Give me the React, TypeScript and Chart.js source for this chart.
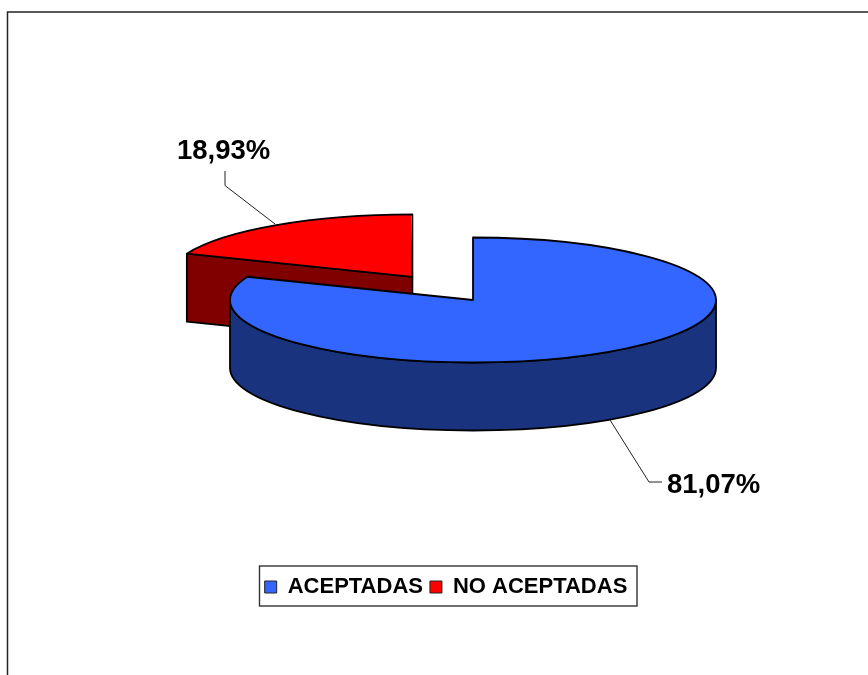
import React, { useEffect, useRef } from "react";
import { Chart, registerables } from "chart.js";

Chart.register(...registerables);

const categories = ["ACEPTADAS", "NO ACEPTADAS"];
const values = [81.07, 18.93];
const topColors = ["#3366FF", "#FF0000"];
const wallColors = ["#1A337F", "#800000"];
const FONT = '"Liberation Sans", Arial, sans-serif';

// Projection of the library's circular pie onto the tilted disc
const CX = 473;
const CY = 300;
const RX = 243;
const RY = 62.5;
const DEPTH = 68;

const fmt = (v: number) => v.toFixed(2).replace(".", ",") + "%";

function geom(chart: any, i: number) {
  const data = chart.getDatasetMeta(0).data;
  const arc = data[i];
  const p = arc.getProps(["x", "y", "startAngle", "endAngle"], true);
  const R = data[0].getProps(["outerRadius"], true).outerRadius;
  const mid = (p.startAngle + p.endAngle) / 2;
  // the arc element moves a slice by a quarter of its offset option
  const off = (arc.options.offset || 0) / 4;
  const sx = RX / R;
  const sy = RY / R;
  return {
    ...p,
    sx,
    sy,
    cx: CX + Math.cos(mid) * off * sx,
    cy: CY + Math.sin(mid) * off * sy,
  };
}

const pie3d = {
  id: "pie3d",
  afterDatasetsUpdate(chart: any) {
    // the arc element widens a narrow offset slice: cancel that, keep one radius
    const arc = chart.getDatasetMeta(0).data[1];
    const off = (arc.options.offset || 0) / 4;
    const circ = arc.circumference;
    arc.outerRadius -= off * (1 - Math.sin(Math.min(Math.PI, circ)));
  },
  beforeDraw(chart: any) {
    const ctx = chart.ctx;
    ctx.save();
    ctx.fillStyle = "#fff";
    ctx.fillRect(0, 0, chart.width, chart.height);
    ctx.strokeStyle = "#222";
    ctx.lineWidth = 1.5;
    ctx.beginPath();
    ctx.moveTo(7.5, chart.height);
    ctx.lineTo(7.5, 12);
    ctx.lineTo(chart.width, 12);
    ctx.stroke();
    // legend frame
    ctx.strokeStyle = "#333";
    ctx.lineWidth = 1.4;
    ctx.strokeRect(259.5, 566, 377.5, 40);
    ctx.restore();
  },
  beforeDatasetsDraw(chart: any) {
    const ctx = chart.ctx;
    ctx.save();
    ctx.strokeStyle = "#000";
    ctx.lineWidth = 1.8;
    ctx.lineJoin = "round";
    // back slice: visible cut face
    const r = geom(chart, 1);
    const ex = r.cx + Math.cos(r.startAngle) * RX;
    const ey = r.cy + Math.sin(r.startAngle) * RY;
    ctx.fillStyle = wallColors[1];
    ctx.beginPath();
    ctx.moveTo(r.cx, r.cy);
    ctx.lineTo(ex, ey);
    ctx.lineTo(ex, ey + DEPTH);
    ctx.lineTo(r.cx, r.cy + DEPTH);
    ctx.closePath();
    ctx.fill();
    ctx.stroke();
    // front slice: outer wall
    const b = geom(chart, 0);
    ctx.fillStyle = wallColors[0];
    ctx.beginPath();
    ctx.ellipse(b.cx, b.cy, RX, RY, 0, 0, Math.PI);
    ctx.lineTo(b.cx - RX, b.cy + DEPTH);
    ctx.ellipse(b.cx, b.cy + DEPTH, RX, RY, 0, Math.PI, 0, true);
    ctx.closePath();
    ctx.fill();
    ctx.stroke();
    ctx.restore();

    ctx.save();
    ctx.translate(b.cx, b.cy);
    ctx.scale(b.sx, b.sy);
    ctx.translate(-b.x, -b.y);
  },
  afterDatasetsDraw(chart: any) {
    const ctx = chart.ctx;
    ctx.restore();
    ctx.save();
    ctx.strokeStyle = "#000";
    ctx.lineWidth = 1.8;
    ctx.lineJoin = "round";
    values.forEach((_, i) => {
      const g = geom(chart, i);
      ctx.beginPath();
      ctx.moveTo(g.cx, g.cy);
      ctx.ellipse(g.cx, g.cy, RX, RY, 0, g.startAngle, g.endAngle);
      ctx.closePath();
      ctx.stroke();
    });
    // leader lines and value labels
    ctx.strokeStyle = "#222";
    ctx.lineWidth = 1;
    ctx.beginPath();
    ctx.moveTo(225, 171);
    ctx.lineTo(225, 185.5);
    ctx.lineTo(275, 224);
    ctx.moveTo(610, 420);
    ctx.lineTo(649, 482);
    ctx.lineTo(662, 482);
    ctx.stroke();
    ctx.fillStyle = "#000";
    ctx.font = `bold 27.5px ${FONT}`;
    ctx.textAlign = "left";
    ctx.textBaseline = "middle";
    ctx.fillText(fmt(values[1]), 177, 151);
    ctx.fillText(fmt(values[0]), 667, 485);
    ctx.restore();
  },
};

export default function App() {
  const ref = useRef<HTMLCanvasElement>(null);
  useEffect(() => {
    document.body.style.margin = "0";
    const chart = new Chart(ref.current!, {
      type: "pie",
      data: {
        labels: categories,
        datasets: [
          {
            data: values,
            backgroundColor: topColors,
            borderWidth: 0,
            offset: [0, 268],
            clip: false,
          } as any,
        ],
      },
      options: {
        responsive: false,
        animation: false,
        events: [],
        layout: { padding: { left: 24, right: 0, top: 0, bottom: 67 } },
        plugins: {
          tooltip: { enabled: false },
          title: { display: false },
          legend: {
            position: "bottom",
            labels: {
              boxWidth: 12,
              boxHeight: 12,
              padding: 7,
              color: "#000",
              font: { family: FONT, size: 22, weight: "bold" },
              generateLabels: () =>
                categories.map((text, i) => ({
                  text,
                  fillStyle: topColors[i],
                  strokeStyle: "#222",
                  lineWidth: 1,
                  index: i,
                  hidden: false,
                })),
            },
          },
        },
      },
      plugins: [pie3d],
    } as any);
    return () => chart.destroy();
  }, []);
  return <canvas ref={ref} width={868} height={675} style={{ display: "block" }} />;
}
